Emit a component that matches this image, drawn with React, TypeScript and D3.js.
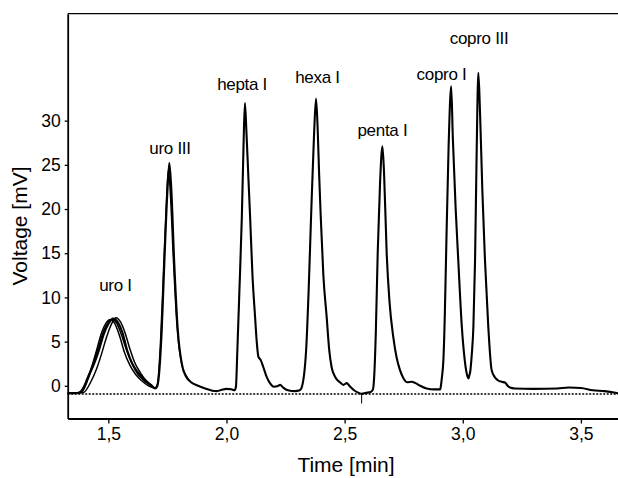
import * as d3 from "d3";
import { useEffect, useRef } from "react";

// main chromatogram trace: [time (min), voltage (mV)]
const mainTrace: [number, number][] = [
  [1.328, -0.85], [1.36, -0.85], [1.385, -0.7], [1.414, 1.0], [1.44, 2.5], [1.46, 4.0],
  [1.48, 5.8], [1.5, 7.0], [1.52, 7.6], [1.54, 7.2], [1.56, 6.0], [1.58, 4.0],
  [1.6, 2.6], [1.62, 1.7], [1.643, 1.0], [1.66, 0.5], [1.68, 0.1], [1.698, -0.3],
  [1.706, -0.1], [1.712, 0.65], [1.726, 6.3], [1.737, 13.9], [1.75, 22], [1.758, 25.2],
  [1.766, 22.5], [1.779, 13.9], [1.794, 6.3], [1.815, 2.0], [1.83, 1.0], [1.85, 0.4],
  [1.88, 0.0], [1.91, -0.3], [1.94, -0.55], [1.96, -0.6], [1.98, -0.45], [2.0, -0.35],
  [2.02, -0.4], [2.035, -0.5],
  [2.04, -0.1], [2.046, 4.0], [2.055, 11], [2.065, 19.1], [2.072, 27], [2.078, 32.0],
  [2.084, 29], [2.092, 24], [2.1, 19.1], [2.11, 12.5], [2.121, 7.8], [2.128, 5.0],
  [2.135, 3.3], [2.145, 2.9], [2.156, 2.1], [2.17, 1.0], [2.184, 0.3], [2.2, -0.1],
  [2.215, -0.05], [2.227, 0.1], [2.24, -0.2], [2.26, -0.5], [2.29, -0.6], [2.31, -0.5],
  [2.318, -0.2], [2.337, 4.0], [2.348, 11], [2.358, 19.1], [2.37, 28], [2.379, 32.5],
  [2.386, 29], [2.392, 24], [2.399, 19.1], [2.41, 12.5], [2.424, 7.8], [2.435, 4.0],
  [2.445, 2.1], [2.46, 1.0], [2.48, 0.4], [2.495, 0.1], [2.509, 0.3], [2.52, 0.0],
  [2.54, -0.5], [2.56, -0.8], [2.572, -0.9], [2.59, -0.8], [2.61, -0.7], [2.62, -0.4],
  [2.625, 1.0], [2.632, 6], [2.64, 15.0], [2.65, 23], [2.66, 27.1], [2.667, 24],
  [2.678, 15.0], [2.69, 9.5], [2.706, 5.5], [2.72, 3.2], [2.734, 1.8], [2.75, 0.8],
  [2.765, 0.4], [2.784, 0.45], [2.8, 0.3], [2.82, 0.0], [2.847, -0.3], [2.88, -0.4],
  [2.905, -0.4],
  [2.907, -0.1], [2.912, 1.0], [2.918, 2.9], [2.924, 8], [2.929, 14.2], [2.94, 27],
  [2.951, 33.9], [2.958, 28], [2.97, 20], [2.981, 14.2], [2.996, 6.7], [3.008, 3.0],
  [3.016, 1.5], [3.024, 0.84], [3.028, 1.2],
  [3.031, 1.5], [3.038, 3.5], [3.045, 6.7], [3.052, 14.2], [3.058, 25], [3.066, 35.4],
  [3.073, 31], [3.083, 22], [3.094, 14.2], [3.108, 6.7], [3.122, 1.8], [3.135, 1.0],
  [3.15, 0.6], [3.165, 0.45], [3.18, 0.35], [3.19, 0.0], [3.2, -0.2], [3.22, -0.3],
  [3.3, -0.35], [3.4, -0.3], [3.45, -0.2], [3.5, -0.25], [3.55, -0.5], [3.6, -0.6],
  [3.64, -0.75], [3.657, -0.85],
];

// replicate runs, only visible where they separate (uro I / uro III)
const replicateA: [number, number][] = [
  [1.328, -0.85], [1.375, -0.75], [1.405, 0.4], [1.43, 2.2], [1.45, 4.0], [1.47, 5.9],
  [1.49, 7.1], [1.508, 7.5], [1.528, 7.0], [1.548, 5.6], [1.568, 3.8], [1.59, 2.4],
  [1.615, 1.3], [1.64, 0.6], [1.67, 0.0], [1.698, -0.3],
];
const replicateB: [number, number][] = [
  [1.328, -0.85], [1.395, -0.75], [1.425, 0.4], [1.45, 1.9], [1.47, 3.5], [1.49, 5.3],
  [1.51, 6.8], [1.532, 7.7], [1.552, 7.2], [1.572, 5.9], [1.592, 4.1], [1.612, 2.6],
  [1.635, 1.5], [1.66, 0.6], [1.68, 0.1], [1.698, -0.3],
];
const replicateC: [number, number][] = [
  [1.328, -0.85], [1.385, -0.75], [1.415, 0.8], [1.44, 2.8], [1.46, 4.5], [1.48, 6.2],
  [1.5, 7.2], [1.515, 7.5], [1.535, 7.1], [1.555, 5.8], [1.575, 4.2], [1.6, 2.5],
  [1.625, 1.3], [1.65, 0.6], [1.675, 0.1], [1.698, -0.3],
];
const replicateD: [number, number][] = [
  [1.698, -0.3], [1.708, 0.2], [1.72, 4.5], [1.732, 12], [1.746, 21], [1.754, 24.4],
  [1.762, 22], [1.775, 14.5], [1.79, 7], [1.81, 2.5], [1.83, 1.1], [1.85, 0.4],
];

const peakLabels = ["uro I", "uro III", "hepta I", "hexa I", "penta I", "copro I", "copro III"];
const labelTimes = [1.53, 1.761, 2.066, 2.385, 2.66, 2.91, 3.069];
const labelLevels = [10.7, 26.2, 33.5, 34.3, 28.3, 34.6, 38.7];

const xTicks = [1.5, 2.0, 2.5, 3.0, 3.5];
const yTicks = [0, 5, 10, 15, 20, 25, 30];
const baselineLevel = -0.93;
const markerTime = 2.572;
const markerRange = [-0.9, -2.0];

const width = 618;
const height = 478;
const margin = { top: 13.7, right: 0, bottom: 59.5, left: 67.7 };
const font = "'Liberation Sans', Arial, Helvetica, sans-serif";

export default function App() {
  const svgRef = useRef<SVGSVGElement>(null);

  useEffect(() => {
    const svg = d3.select(svgRef.current);
    svg.selectAll("*").remove();

    const x = d3.scaleLinear().domain([1.328, 3.657]).range([margin.left, width - margin.right]);
    const y = d3.scaleLinear().domain([-3.7, 42.1]).range([height - margin.bottom, margin.top]);

    // top frame line
    svg
      .append("line")
      .attr("x1", margin.left)
      .attr("x2", width)
      .attr("y1", margin.top)
      .attr("y2", margin.top)
      .attr("stroke", "#000")
      .attr("stroke-width", 1.2);

    const xAxis = d3
      .axisBottom(x)
      .tickValues(xTicks)
      .tickSize(5)
      .tickSizeOuter(0)
      .tickPadding(4)
      .tickFormat((d) => d3.format(".1f")(d as number).replace(".", ","));
    const gx = svg
      .append("g")
      .attr("transform", `translate(0,${height - margin.bottom})`)
      .call(xAxis);
    gx.select(".domain").attr("stroke-width", 2.2);
    gx.selectAll(".tick line").attr("stroke-width", 1.3);
    gx.selectAll("text").attr("font-size", 17.5).attr("font-family", font).attr("fill", "#000");

    const yAxis = d3.axisLeft(y).tickValues(yTicks).tickSize(3).tickSizeOuter(0).tickPadding(4);
    const gy = svg.append("g").attr("transform", `translate(${margin.left},0)`).call(yAxis);
    gy.select(".domain").attr("stroke-width", 1.8);
    gy.selectAll(".tick line").attr("stroke-width", 1.3);
    gy.selectAll("text").attr("font-size", 17.5).attr("font-family", font).attr("fill", "#000");

    // dotted baseline
    svg
      .append("line")
      .attr("x1", x(1.328))
      .attr("x2", x(3.657))
      .attr("y1", y(baselineLevel))
      .attr("y2", y(baselineLevel))
      .attr("stroke", "#000")
      .attr("stroke-width", 1.7)
      .attr("stroke-dasharray", "2,1.5");

    svg
      .append("line")
      .attr("x1", x(markerTime))
      .attr("x2", x(markerTime))
      .attr("y1", y(markerRange[0]))
      .attr("y2", y(markerRange[1]))
      .attr("stroke", "#000")
      .attr("stroke-width", 1);

    const line = d3
      .line<[number, number]>()
      .x((d) => x(d[0]))
      .y((d) => y(d[1]))
      .curve(d3.curveMonotoneX);

    [replicateA, replicateB, replicateC, replicateD].forEach((rep) => {
      svg
        .append("path")
        .attr("d", line(rep))
        .attr("fill", "none")
        .attr("stroke", "#000")
        .attr("stroke-width", 1.5);
    });

    svg
      .append("path")
      .attr("d", line(mainTrace))
      .attr("fill", "none")
      .attr("stroke", "#000")
      .attr("stroke-width", 2.1)
      .attr("stroke-linejoin", "round");

    svg
      .selectAll(".peak-label")
      .data(peakLabels)
      .join("text")
      .attr("class", "peak-label")
      .attr("x", (_, i) => x(labelTimes[i]))
      .attr("y", (_, i) => y(labelLevels[i]))
      .attr("text-anchor", "middle")
      .attr("font-family", font)
      .attr("font-size", 17)
      .attr("letter-spacing", -0.3)
      .text((d) => d);

    svg
      .append("text")
      .attr("x", 346)
      .attr("y", 472)
      .attr("text-anchor", "middle")
      .attr("font-family", font)
      .attr("font-size", 21)
      .text("Time [min]");

    svg
      .append("text")
      .attr("transform", "translate(27,226) rotate(-90)")
      .attr("text-anchor", "middle")
      .attr("font-family", font)
      .attr("font-size", 21)
      .text("Voltage [mV]");
  }, []);

  return (
    <svg
      ref={svgRef}
      width={width}
      height={height}
      style={{ position: "absolute", left: 0, top: 0, background: "#fff" }}
    />
  );
}
